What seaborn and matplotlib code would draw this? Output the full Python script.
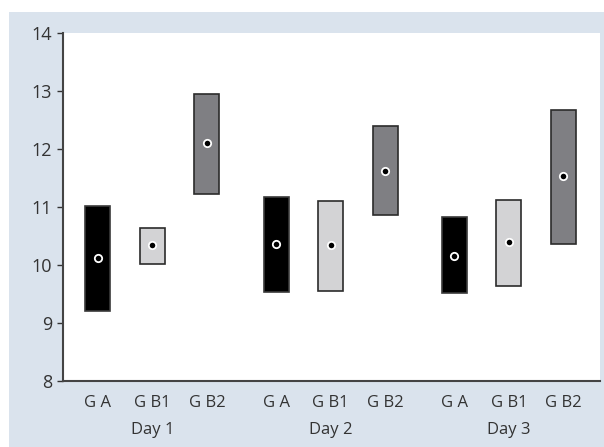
import numpy as np
import pandas as pd
import matplotlib.pyplot as plt
import matplotlib.patches as mpatches
import matplotlib.transforms as mtransforms
import seaborn as sns

# ── Data ─────────────────────────────────────────────
days = ['Day 1', 'Day 2', 'Day 3']
groups = ['G A', 'G B1', 'G B2']
low = [9.20, 10.02, 11.22,
       9.53, 9.56, 10.87,
       9.52, 9.63, 10.37]
high = [11.02, 10.64, 12.95,
        11.17, 11.11, 12.39,
        10.82, 11.12, 12.68]
mid = [10.12, 10.35, 12.10,
       10.37, 10.34, 11.62,
       10.16, 10.39, 11.53]

colors = {'G A': '#000000', 'G B1': '#d3d3d5', 'G B2': '#7f7f83'}
edges = {'G A': '#3a3a3a', 'G B1': '#2b2b2b', 'G B2': '#2b2b2b'}

rows = []
for i, d in enumerate(days):
    for j, g in enumerate(groups):
        k = i * len(groups) + j
        rows.append({'day': d, 'group': g, 'pos': i * 3.27 + j,
                     'low': low[k], 'high': high[k], 'mid': mid[k]})
df = pd.DataFrame(rows)

# ── Plot ─────────────────────────────────────────────
sns.set_style('ticks')
plt.rcParams['font.family'] = ['Open Sans', 'DejaVu Sans']

fig = plt.figure(figsize=(6.04, 4.47), dpi=100)
fig.patches.append(mpatches.Rectangle((9 / 604, 0), 1 - 9 / 604, (447 - 12) / 447,
                                      transform=fig.transFigure, facecolor='#dae3ed',
                                      edgecolor='none', zorder=-10))
ax = fig.add_axes([63 / 604, 66 / 447, 537 / 604, 348 / 447])
ax.set_facecolor('white')

for _, r in df.iterrows():
    ax.bar(r['pos'], r['high'] - r['low'], bottom=r['low'], width=0.46,
           color=colors[r['group']], edgecolor=edges[r['group']], linewidth=1.2, zorder=2)

sns.scatterplot(data=df, x='pos', y='mid', ax=ax, color='black', edgecolor='white',
                linewidth=1.3, s=28, zorder=3, legend=False)

ax.set_xlim(-0.64, 9.21)
ax.set_ylim(8, 14)
ax.set_yticks(np.arange(8, 15, 1))
ax.set_xticks(df['pos'])
ax.set_xticklabels(df['group'])
ax.tick_params(axis='x', length=0, pad=10, labelsize=12, colors='#333333')
ax.tick_params(axis='y', length=4, width=1, labelsize=13, colors='#333333', pad=4)
ax.set_xlabel('')
ax.set_ylabel('')

sns.despine(ax=ax)
for s in ['left', 'bottom']:
    ax.spines[s].set_color('#444444')
    ax.spines[s].set_linewidth(1.5)

trans = mtransforms.blended_transform_factory(ax.transData, ax.transAxes)
for i, d in enumerate(days):
    ax.text(i * 3.27 + 1, -0.14, d, transform=trans, ha='center', va='center',
            fontsize=12, color='#333333')

plt.savefig('out.png', dpi=100)
